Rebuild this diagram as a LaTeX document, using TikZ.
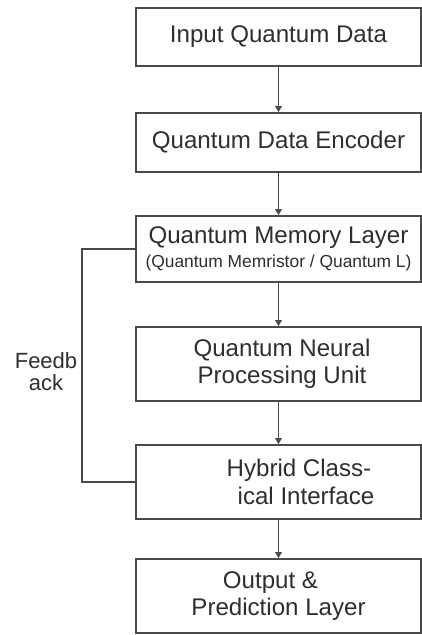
\documentclass[tikz,border=0pt]{standalone}
\usepackage{fontspec}
\setmainfont{Liberation Sans}
\usetikzlibrary{arrows.meta}
\definecolor{linegray}{HTML}{4A4A4A}
\definecolor{textgray}{HTML}{2E2E2E}
\tikzset{
  layer/.style={draw=linegray, line width=1.6pt, rectangle, minimum width=285pt,
    inner sep=0pt, align=center, text=textgray, font=\fontsize{24.1}{27.5}\selectfont},
  flow/.style={draw=linegray, line width=1.6pt, -{Triangle[length=6pt,width=6.5pt]}},
  loopline/.style={draw=linegray, line width=1.6pt}
}
\begin{document}
\begin{tikzpicture}[x=1pt,y=-1pt]
            \useasboundingbox (0,0) rectangle (422,635);
            
            % Layers of the pipeline
            \node [layer, minimum height=58pt] (input) at (278.5,37) {Input Quantum Data};
            \node [layer, minimum height=59pt] (encoder) at (278.5,142.5) {Quantum Data Encoder};
            \node [layer, minimum height=66pt] (memory) at (278.5,249) {Quantum Memory Layer\\[-3pt]{\fontsize{17.4}{19}\selectfont (Quantum Memristor / Quantum L)}};
            \node [layer, minimum height=74pt] (neural) at (278.5,364) {\hspace*{7pt}Quantum Neural\\\hspace*{7pt}Processing Unit};
            \node [layer, minimum height=74pt, align=left] (hybrid) at (278.5,482) {\hspace*{44pt}Hybrid Class-\\\hspace*{55pt}ical Interface};
            \node [layer, minimum height=74pt] (output) at (278.5,596) {Output \&\hspace*{16pt}\\Prediction Layer};
            
            % Forward arrows
            \draw [flow] (input) -- (encoder);
            \draw [flow] (encoder) -- (memory);
            \draw [flow] (memory) -- (neural);
            \draw [flow] (neural) -- (hybrid);
            \draw [flow] (hybrid) -- (output);
            
            % Feedback loop
            \draw [loopline] (memory.west) -- ++(-53,0) |- (hybrid.west);
            \node [align=center, text=textgray, font=\fontsize{22}{22}\selectfont] (feedback) at (46,372) {Feedb\\ack};
        \end{tikzpicture}
\end{document}
